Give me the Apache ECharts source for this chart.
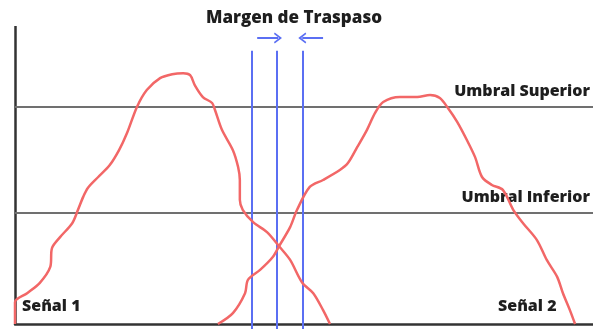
<!DOCTYPE html>
<html>
<head>
<meta charset="utf-8">
<script src="https://cdn.jsdelivr.net/npm/echarts@6/dist/echarts.min.js"></script>
<style>
  html, body { margin: 0; padding: 0; background: #fff; }
  #chart { width: 593px; height: 329px; }
</style>
</head>
<body>
<div id="chart"></div>
<script>
// Signal 1 trace: [time, level]
const senal1 = [
  [0, 0], [0, 4.4], [2.1, 6.2], [4.3, 8.3], [6.1, 11.5], [6.4, 15.3], [7.8, 17.5],
  [9.9, 20.3], [10.9, 23.0], [11.8, 25.6], [12.6, 27.4], [14.4, 29.6], [16.4, 32.0],
  [18.0, 35.0], [19.4, 38.5], [21.1, 43.7], [22.8, 47.1], [25.1, 49.5], [27.2, 50.3],
  [29.1, 50.5], [30.3, 50.1], [31.1, 48.1], [32.5, 45.7], [34.1, 44.5], [34.6, 43.1],
  [35.8, 39.1], [37.7, 35.0], [38.6, 31.6], [38.9, 29.0], [38.9, 25.0],
  [39.4, 23.0], [41.2, 20.5], [43.6, 18.5], [45.8, 15.5], [47.6, 12.9], [49.7, 8.3],
  [51.6, 6.2], [53.3, 2.8], [54.5, 0]
];

// Signal 2 trace: [time, level]
const senal2 = [
  [35.1, 0], [37.7, 2.2], [39.8, 6.2], [40.3, 8.9], [42.4, 10.9], [44.6, 13.5],
  [45.8, 15.9], [47.6, 19.5], [48.8, 23.0], [51.0, 27.6], [53.3, 29.0], [56.2, 31.0],
  [57.6, 32.4], [59.2, 35.6], [60.9, 39.1], [62.3, 42.5], [63.7, 44.7], [66.6, 45.7],
  [69.6, 45.7], [71.8, 46.1], [73.5, 45.5], [74.9, 43.5], [76.5, 40.7], [78.2, 37.0],
  [79.6, 33.6], [80.8, 29.6], [82.5, 28.0], [84.4, 27.0], [86.2, 23.0], [87.9, 20.3],
  [90.3, 16.9], [92.0, 12.9], [93.8, 9.5], [94.8, 6.2], [96.0, 2.8], [96.9, 0]
];

// Threshold levels
const umbralSuperior = 43.8;
const umbralInferior = 22.4;

// Handover margin: three switching instants and vertical extent
const margenX = [41.0, 45.3, 49.8];
const margenY = [-1, 55];

// Converging arrows above the margin: [from, to] in time, at a given level
const flechas = [[41.9, 45.5], [53.3, 49.7]];
const flechaY = 57.6;

const RED = '#f26767';
const BLUE = '#5b6ff3';
const TEXT = '#1e1e1e';
const FONT = 'Open Sans';
const WEIGHT = 800;

const chart = echarts.init(document.getElementById('chart'));

const chevron = 'path://M0,10 L5,0 L10,10 L8.6,11 L5,4 L1.4,11 Z';

chart.setOption({
  animation: false,
  backgroundColor: '#fff',
  title: {
    text: 'Margen de Traspaso',
    left: 289,
    textAlign: 'center',
    top: 5,
    textStyle: { fontFamily: FONT, fontWeight: WEIGHT, fontSize: 17, color: TEXT }
  },
  grid: { left: 15, right: 0, top: 26, bottom: 0, containLabel: false },
  xAxis: {
    type: 'value', min: 0, max: 100,
    axisLine: { show: true, onZero: true, lineStyle: { color: '#333', width: 2.5 } },
    axisTick: { show: false }, axisLabel: { show: false }, splitLine: { show: false }
  },
  yAxis: {
    type: 'value', min: -1, max: 60,
    axisLine: { show: false },
    axisTick: { show: false }, axisLabel: { show: false }, splitLine: { show: false }
  },
  series: [
    {
      // vertical level axis from 0 up
      type: 'line', data: [], silent: true,
      markLine: {
        silent: true, symbol: ['none', 'none'], animation: false,
        lineStyle: { color: '#333', width: 2.5, type: 'solid' },
        label: { show: false },
        data: [[{ coord: [0, 0] }, { coord: [0, 60] }]]
      }
    },
    {
      // thresholds
      type: 'line', data: [], silent: true,
      markLine: {
        silent: true, symbol: ['none', 'none'], animation: false,
        lineStyle: { color: '#707070', width: 2, type: 'solid' },
        label: {
          show: true, position: 'insideEndTop', distance: [3, 7],
          fontFamily: FONT, fontWeight: WEIGHT, fontSize: 16, color: TEXT
        },
        data: [
          { yAxis: umbralSuperior, name: 'Umbral Superior', label: { formatter: 'Umbral Superior' } },
          { yAxis: umbralInferior, name: 'Umbral Inferior', label: { formatter: 'Umbral Inferior' } }
        ]
      }
    },
    {
      // handover margin lines and arrows
      type: 'line', data: [], silent: true,
      markLine: {
        silent: true, animation: false,
        symbol: ['none', 'none'],
        lineStyle: { color: BLUE, width: 2, type: 'solid' },
        label: { show: false },
        data: margenX.map(x => [{ coord: [x, margenY[0]] }, { coord: [x, margenY[1]] }])
          .concat(flechas.map(f => [
            { coord: [f[0], flechaY], symbol: 'none' },
            { coord: [f[1], flechaY], symbol: chevron, symbolSize: [11, 8] }
          ]))
      }
    },
    {
      name: 'Señal 1', type: 'line', data: senal1, showSymbol: false, smooth: 0.3,
      lineStyle: { color: RED, width: 2.5 }, z: 5
    },
    {
      name: 'Señal 2', type: 'line', data: senal2, showSymbol: false, smooth: 0.3,
      lineStyle: { color: RED, width: 2.5 }, z: 5
    }
  ],
  graphic: [
    {
      type: 'text', left: 22, top: 298,
      style: { text: 'Señal 1', fontFamily: FONT, fontWeight: WEIGHT, fontSize: 16, fill: TEXT }
    },
    {
      type: 'text', left: 498, top: 298,
      style: { text: 'Señal 2', fontFamily: FONT, fontWeight: WEIGHT, fontSize: 16, fill: TEXT }
    }
  ]
});
</script>
</body>
</html>
